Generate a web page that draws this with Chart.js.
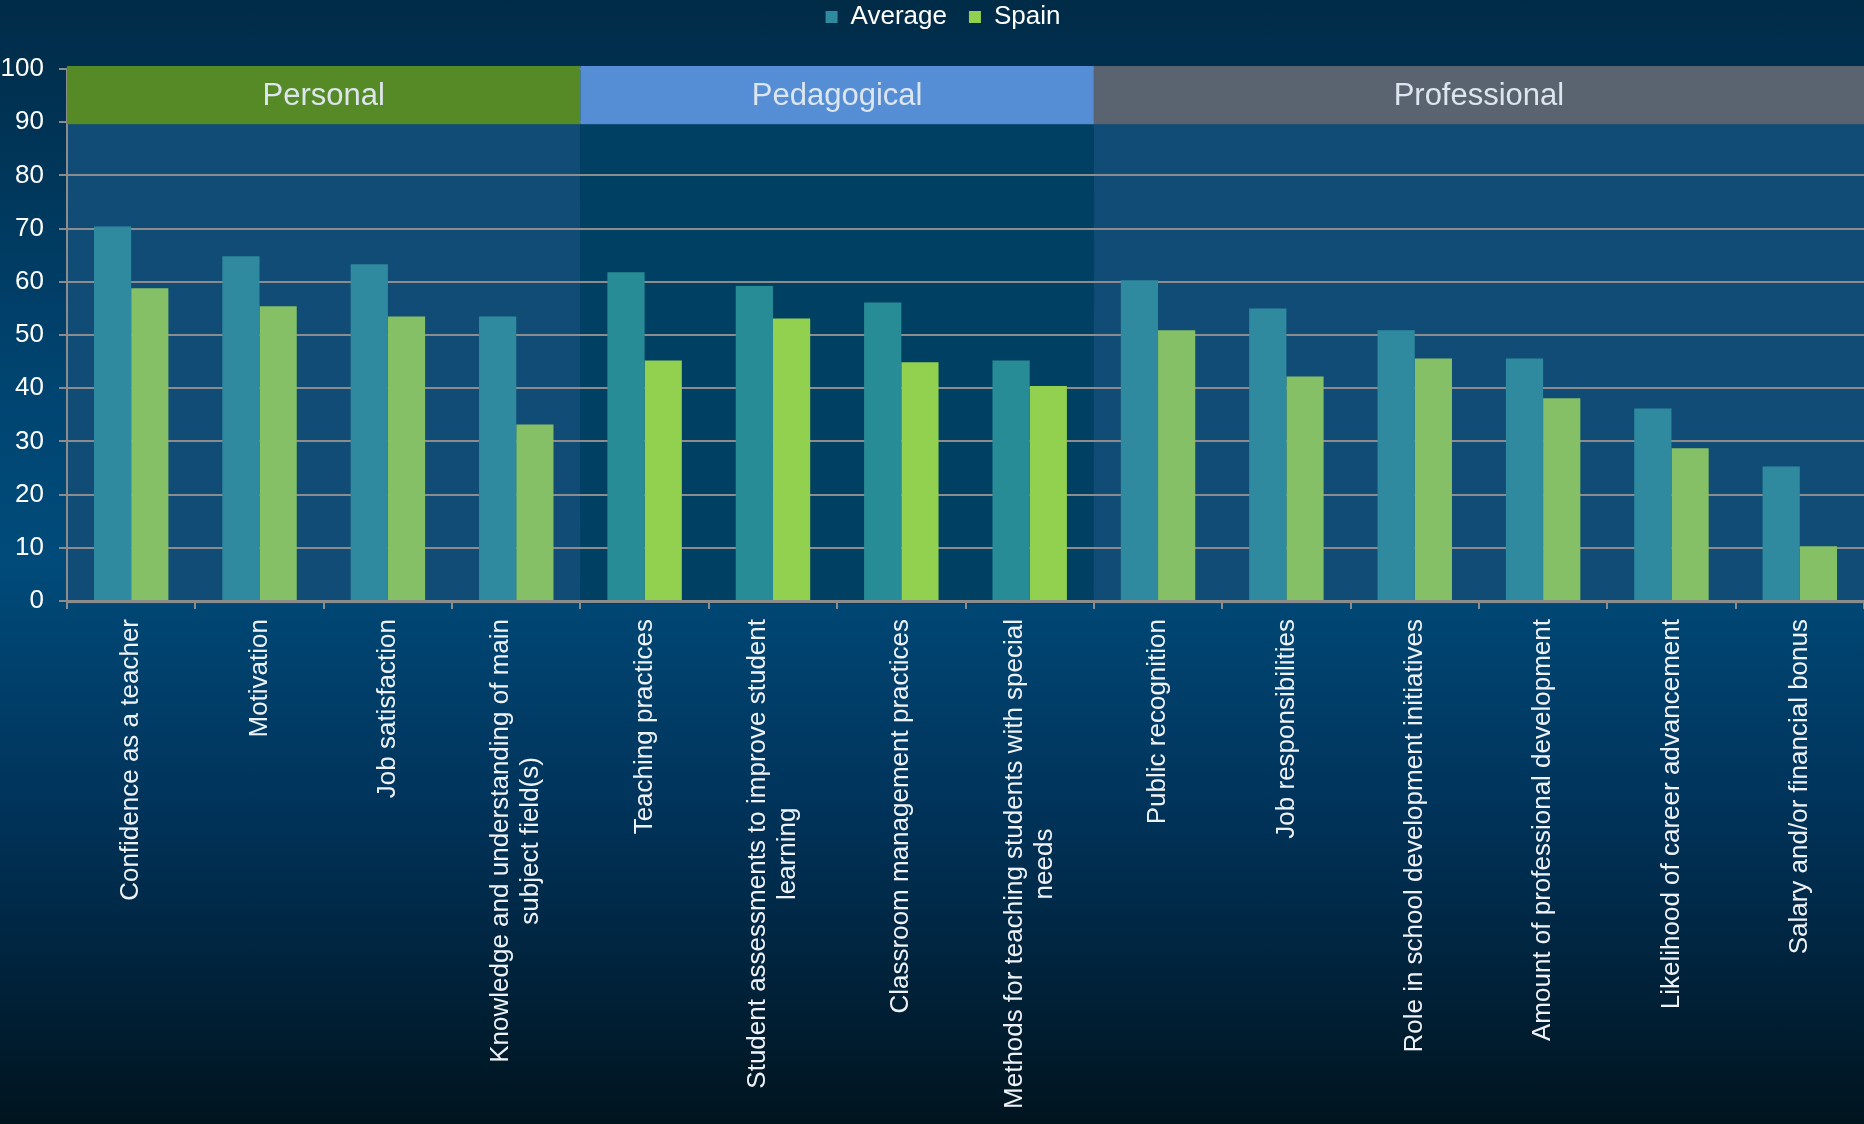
<!DOCTYPE html>
<html>
<head>
<meta charset="utf-8">
<title>Teacher feedback impact - Average vs Spain</title>
<script src="https://cdn.jsdelivr.net/npm/chart.js@4.4.1/dist/chart.umd.min.js"></script>
<style>
    html, body {
        margin: 0;
        padding: 0;
    }

    body {
        width: 1864px;
        height: 1124px;
        overflow: hidden;
        background: linear-gradient(to bottom, #002b47 0%, #004572 35%, #004b7a 50%, #00335a 72%, #00141f 100%);
    }
</style>
</head>
<body>

<canvas id="feedbackChart" width="1864" height="1124"></canvas>

<script>

/* ==========================================
        DATA
========================================== */

const categories = [
    "Confidence as a teacher",
    "Motivation",
    "Job satisfaction",
    ["Knowledge and understanding of main", "subject field(s)"],
    "Teaching practices",
    ["Student assessments to improve student", "learning"],
    "Classroom management practices",
    ["Methods for teaching students with special", "needs"],
    "Public recognition",
    "Job responsibilities",
    "Role in school development initiatives",
    "Amount of professional development",
    "Likelihood of career advancement",
    "Salary and/or financial bonus"
];

const averageValues = [70.4, 64.8, 63.3, 53.5, 61.8, 59.2, 56.1, 45.2, 60.3, 55.0, 50.9, 45.6, 36.2, 25.3];

const spainValues = [58.8, 55.4, 53.5, 33.2, 45.2, 53.1, 44.9, 40.4, 50.9, 42.2, 45.6, 38.1, 28.7, 10.3];

const groupNames = ["Personal", "Pedagogical", "Professional"];

const groupSizes = [4, 4, 6];

const yTicks = [0, 10, 20, 30, 40, 50, 60, 70, 80, 90, 100];

/* ==========================================
        STYLE
========================================== */

const FONT = "'Liberation Sans', Arial, sans-serif";

const groupHeaderColors = ["#568a26", "#558ed5", "#5a6470"];
const groupPanelColors = ["#104c75", "#004062", "#104c75"];
const averageColors = ["#2f8a9f", "#288c97", "#2f8a9f"];
const spainColors = ["#85bf66", "#92d050", "#85bf66"];

// group index for every category
const groupOfCategory = [];
groupSizes.forEach((size, g) => {
    for (let i = 0; i < size; i++) groupOfCategory.push(g);
});

/* ==========================================
        PLUGINS
========================================== */

// extra space between legend and plot, legend nudged right a little
const legendGap = {
    id: "legendGap",
    beforeInit(chart) {
        const legend = chart.legend;
        const fit = legend.fit;
        const draw = legend.draw;
        legend.fit = function () {
            fit.bind(legend)();
            this.height += 29;
        };
        legend.draw = function () {
            chart.ctx.save();
            chart.ctx.translate(11, 0);
            draw.apply(legend, arguments);
            chart.ctx.restore();
        };
    }
};

function groupBounds(chart) {
    const x = chart.scales.x;
    const step = x.width / categories.length;
    const bounds = [];
    let start = 0;
    groupSizes.forEach(size => {
        const left = x.getPixelForValue(start) - step / 2;
        const right = x.getPixelForValue(start + size - 1) + step / 2;
        bounds.push({ left, right });
        start += size;
    });
    return bounds;
}

// darker / lighter panels behind each group
const groupPanels = {
    id: "groupPanels",
    beforeDraw(chart) {
        const { ctx, chartArea, scales } = chart;
        const top = scales.y.getPixelForValue(100);
        ctx.save();
        groupBounds(chart).forEach((b, g) => {
            ctx.fillStyle = groupPanelColors[g];
            ctx.fillRect(b.left, top, b.right - b.left, chartArea.bottom - top + 3);
        });
        ctx.restore();
    }
};

// coloured header band with group names
const groupHeaders = {
    id: "groupHeaders",
    afterDatasetsDraw(chart) {
        const { ctx, scales } = chart;
        const top = scales.y.getPixelForValue(100) - 3;
        const bottom = scales.y.getPixelForValue(90) + 2;
        ctx.save();
        groupBounds(chart).forEach((b, g) => {
            ctx.fillStyle = groupHeaderColors[g];
            ctx.fillRect(b.left, top, b.right - b.left, bottom - top);
            ctx.fillStyle = "#dde6ee";
            ctx.font = "31px " + FONT;
            ctx.textAlign = "center";
            ctx.textBaseline = "middle";
            ctx.fillText(groupNames[g], (b.left + b.right) / 2, (top + bottom) / 2 + 1);
        });
        ctx.restore();
    }
};

// vertical category labels, lines centred on each other
const categoryLabels = {
    id: "categoryLabels",
    afterDraw(chart) {
        const { ctx, scales } = chart;
        const labelTop = scales.y.getPixelForValue(0) + 18;
        const lineGap = 30;
        ctx.save();
        ctx.font = "26px " + FONT;
        ctx.fillStyle = "#eef2f6";
        ctx.textAlign = "center";
        ctx.textBaseline = "middle";
        categories.forEach((label, i) => {
            const lines = Array.isArray(label) ? label : [label];
            const widest = Math.max(...lines.map(l => ctx.measureText(l).width));
            const cx = scales.x.getPixelForValue(i);
            lines.forEach((line, k) => {
                const offset = (k - (lines.length - 1) / 2) * lineGap;
                ctx.save();
                ctx.translate(cx + offset, labelTop + widest / 2);
                ctx.rotate(-Math.PI / 2);
                ctx.fillText(line, 0, 0);
                ctx.restore();
            });
        });
        ctx.restore();
    }
};

/* ==========================================
        CHART
========================================== */

Chart.defaults.font.family = FONT;

const ctx = document.getElementById("feedbackChart").getContext("2d");

new Chart(ctx, {
    type: "bar",
    data: {
        labels: categories,
        datasets: [
            {
                label: "Average",
                data: averageValues,
                backgroundColor: groupOfCategory.map(g => averageColors[g]),
                borderWidth: 0,
                categoryPercentage: 0.58,
                barPercentage: 1
            },
            {
                label: "Spain",
                data: spainValues,
                backgroundColor: groupOfCategory.map(g => spainColors[g]),
                borderWidth: 0,
                categoryPercentage: 0.58,
                barPercentage: 1
            }
        ]
    },
    options: {
        responsive: false,
        animation: false,
        devicePixelRatio: 1,
        layout: {
            padding: { top: -18, right: 0, left: 0, bottom: 0 }
        },
        plugins: {
            legend: {
                position: "top",
                labels: {
                    color: "#ffffff",
                    font: { size: 26, family: FONT },
                    boxWidth: 12,
                    boxHeight: 12,
                    padding: 22,
                    generateLabels(chart) {
                        return chart.data.datasets.map((ds, i) => ({
                            text: ds.label,
                            fillStyle: i === 0 ? averageColors[0] : spainColors[1],
                            strokeStyle: "transparent",
                            lineWidth: 0,
                            fontColor: "#ffffff",
                            datasetIndex: i
                        }));
                    }
                }
            },
            tooltip: { enabled: false }
        },
        scales: {
            x: {
                offset: true,
                grid: {
                    offset: true,
                    drawOnChartArea: false,
                    drawTicks: true,
                    tickLength: 8,
                    color: "#8c8c8c",
                    lineWidth: 2
                },
                border: { color: "#8c8c8c", width: 3 },
                ticks: { display: false },
                afterFit(scale) {
                    scale.height = 523;
                }
            },
            y: {
                min: 0,
                max: 100,
                afterBuildTicks(scale) {
                    scale.ticks = yTicks.map(v => ({ value: v }));
                },
                grid: {
                    color: "#8c8c8c",
                    lineWidth: 2,
                    tickLength: 8
                },
                border: { color: "#8c8c8c", width: 2 },
                ticks: {
                    color: "#ffffff",
                    font: { size: 26, family: FONT },
                    padding: 15
                },
                afterFit(scale) {
                    scale.width = 67;
                }
            }
        }
    },
    plugins: [legendGap, groupPanels, groupHeaders, categoryLabels]
});

</script>
</body>
</html>
